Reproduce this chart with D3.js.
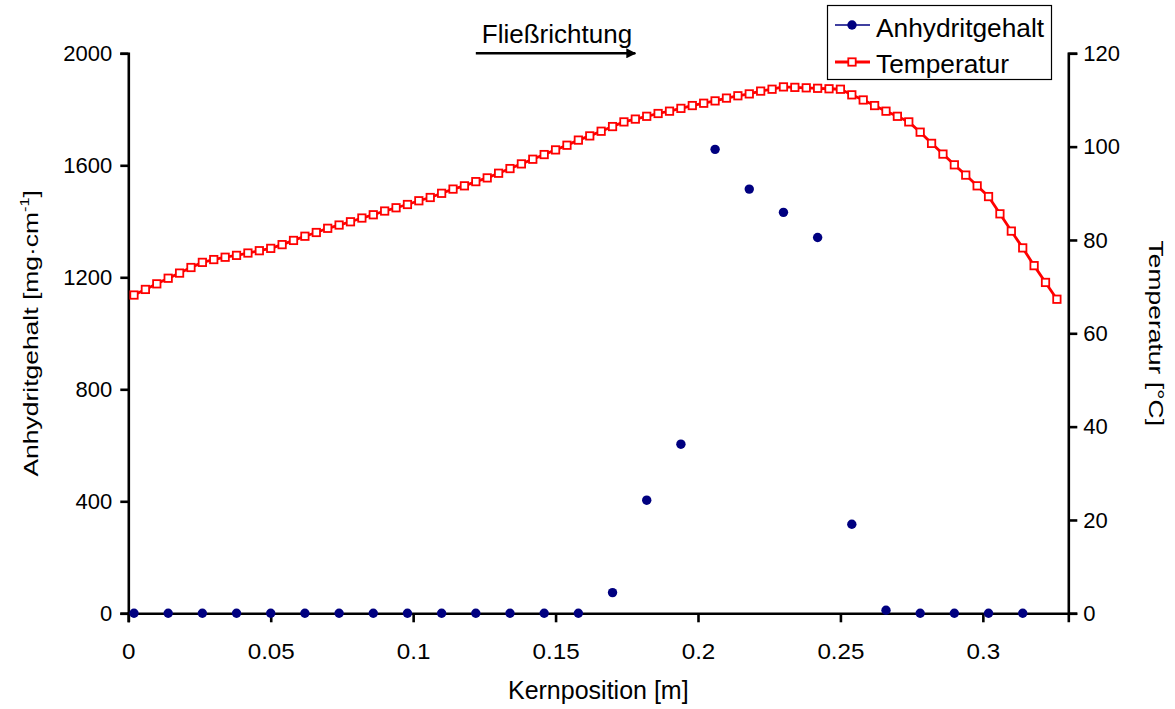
<!DOCTYPE html>
<html>
<head>
<meta charset="utf-8">
<script src="https://cdn.jsdelivr.net/npm/d3@7/dist/d3.min.js"></script>
<style>
  html, body { margin: 0; padding: 0; background: #ffffff; }
  svg { display: block; }
  text { font-family: "Liberation Sans", Arial, sans-serif; fill: #000; }
</style>
</head>
<body>
<svg id="chart" width="1175" height="709"></svg>
<script>
// Kernposition of the anhydrite samples [m]
const anhydritPosition = [0.002, 0.014, 0.026, 0.038, 0.050, 0.062, 0.074, 0.086, 0.098,
  0.110, 0.122, 0.134, 0.146, 0.158, 0.170, 0.182, 0.194, 0.206, 0.218, 0.230, 0.242,
  0.254, 0.266, 0.278, 0.290, 0.302, 0.314];
// Anhydritgehalt [mg·cm^-1]
const anhydritGehalt = [0, 0, 0, 0, 0, 0, 0, 0, 0, 0, 0, 0, 0, 0,
  74, 404, 604, 1657, 1515, 1432, 1342, 318, 11, 0, 0, 0, 0];

// Kernposition of the temperature profile [m]
const tempPosition = [0.002, 0.006, 0.010, 0.014, 0.018, 0.022, 0.026, 0.030, 0.034, 0.038,
  0.042, 0.046, 0.050, 0.054, 0.058, 0.062, 0.066, 0.070, 0.074, 0.078,
  0.082, 0.086, 0.090, 0.094, 0.098, 0.102, 0.106, 0.110, 0.114, 0.118,
  0.122, 0.126, 0.130, 0.134, 0.138, 0.142, 0.146, 0.150, 0.154, 0.158,
  0.162, 0.166, 0.170, 0.174, 0.178, 0.182, 0.186, 0.190, 0.194, 0.198,
  0.202, 0.206, 0.210, 0.214, 0.218, 0.222, 0.226, 0.230, 0.234, 0.238,
  0.242, 0.246, 0.250, 0.254, 0.258, 0.262, 0.266, 0.270, 0.274, 0.278,
  0.282, 0.286, 0.290, 0.294, 0.298, 0.302, 0.306, 0.310, 0.314, 0.318,
  0.322, 0.326];
// Temperatur [°C]
const temperatur = [68.2, 69.4, 70.6, 71.8, 72.9, 74.1, 75.2, 75.8, 76.3, 76.7,
  77.2, 77.7, 78.2, 79.0, 79.9, 80.8, 81.6, 82.5, 83.2, 83.9,
  84.7, 85.4, 86.2, 86.9, 87.6, 88.4, 89.1, 90.0, 90.9, 91.6,
  92.5, 93.3, 94.3, 95.3, 96.3, 97.3, 98.3, 99.3, 100.3, 101.4,
  102.3, 103.3, 104.3, 105.3, 105.9, 106.5, 107.1, 107.6, 108.2, 108.8,
  109.3, 109.8, 110.4, 110.9, 111.3, 111.9, 112.3, 112.8, 112.7, 112.6,
  112.5, 112.4, 112.3, 111.1, 110.0, 108.8, 107.6, 106.5, 105.3, 103.1,
  100.7, 98.4, 96.1, 93.9, 91.6, 89.3, 85.6, 81.9, 78.3, 74.5,
  70.9, 67.3];

const xTicks = [0, 0.05, 0.1, 0.15, 0.2, 0.25, 0.3];
const yLeftTicks = [0, 400, 800, 1200, 1600, 2000];
const yRightTicks = [0, 20, 40, 60, 80, 100, 120];

const seriesNames = ["Anhydritgehalt", "Temperatur"];
const flowLabel = "Fließrichtung";
const flowArrow = [0.122, 0.178]; // along the top of the plot, in metres

const svg = d3.select("#chart");
const W = 1175, H = 709;
const margin = { left: 128.3, right: W - 1068.3, top: 53.3, bottom: H - 613.3 };
const FS = 22;       // tick labels
const FS_TITLE = 25; // axis titles
const FS_NOTE = 26;  // flow annotation
const FS_LEGEND = 26.3;

const x = d3.scaleLinear().domain([0, 0.33]).range([margin.left, W - margin.right]);
const yL = d3.scaleLinear().domain([0, 2000]).range([H - margin.bottom, margin.top]);
const yR = d3.scaleLinear().domain([0, 120]).range([H - margin.bottom, margin.top]);

const NAVY = "#000080", RED = "#ff0000";

function styleAxis(g) {
  g.selectAll(".domain").attr("stroke", "#000").attr("stroke-width", 2.6);
  g.selectAll(".tick line").attr("stroke", "#000").attr("stroke-width", 2.6);
  g.selectAll(".tick text").attr("font-size", FS).attr("font-family", "Liberation Sans, Arial, sans-serif");
}

// Axes
svg.append("g")
  .attr("transform", `translate(0,${yL(0)})`)
  .call(d3.axisBottom(x).tickValues(xTicks).tickFormat(d3.format("~g")).tickSizeOuter(0).tickSize(9).tickPadding(21))
  .call(styleAxis)
  .call(g => g.selectAll(".tick text").attr("transform", "scale(1.1,1)"));

svg.append("g")
  .attr("transform", `translate(${x(0)},0)`)
  .call(d3.axisLeft(yL).tickValues(yLeftTicks).tickFormat(d3.format("d")).tickSizeOuter(0).tickSize(8).tickPadding(8))
  .call(styleAxis);

svg.append("g")
  .attr("transform", `translate(${x(0.33)},0)`)
  .call(d3.axisRight(yR).tickValues(yRightTicks).tickFormat(d3.format("d")).tickSizeOuter(0).tickSize(9).tickPadding(6))
  .call(styleAxis);

// Axis titles
svg.append("text")
  .attr("x", (x(0) + x(0.33)) / 2).attr("y", 699)
  .attr("text-anchor", "middle").attr("font-size", FS_TITLE)
  .text("Kernposition [m]");

// Rotated titles are drawn elongated along their reading direction
const yTitle = svg.append("text")
  .attr("transform", `translate(37.5,${(yL(0) + yL(2000)) / 2}) rotate(-90) scale(1.26,1)`)
  .attr("text-anchor", "middle").attr("font-size", 21);
yTitle.append("tspan").text("Anhydritgehalt [mg·cm");
yTitle.append("tspan").attr("font-size", 13).attr("dy", -9).text("-1");
yTitle.append("tspan").attr("dy", 9).text("]");

svg.append("text")
  .attr("transform", `translate(1149,${(yR(0) + yR(120)) / 2}) rotate(90) scale(1.26,1)`)
  .attr("text-anchor", "middle").attr("font-size", 21)
  .text("Temperatur [°C]");

// Temperature profile: line with open square markers
const line = d3.line()
  .x((d, i) => x(tempPosition[i]))
  .y(d => yR(d));

svg.append("path")
  .datum(temperatur)
  .attr("fill", "none").attr("stroke", RED).attr("stroke-width", 2.8)
  .attr("stroke-linejoin", "round")
  .attr("d", line);

const SQ = 7.4;
svg.append("g").selectAll("rect")
  .data(temperatur)
  .join("rect")
  .attr("x", (d, i) => x(tempPosition[i]) - SQ / 2)
  .attr("y", d => yR(d) - SQ / 2)
  .attr("width", SQ).attr("height", SQ)
  .attr("fill", "#fff").attr("stroke", RED).attr("stroke-width", 1.8);

// Anhydrite content: markers only
svg.append("g").selectAll("circle")
  .data(anhydritGehalt)
  .join("circle")
  .attr("cx", (d, i) => x(anhydritPosition[i]))
  .attr("cy", d => yL(d))
  .attr("r", 4.7)
  .attr("fill", NAVY);

// Flow direction arrow
svg.append("defs").append("marker")
  .attr("id", "arrowhead")
  .attr("viewBox", "0 0 10 10").attr("refX", 9).attr("refY", 5)
  .attr("markerWidth", 4).attr("markerHeight", 4)
  .attr("markerUnits", "strokeWidth")
  .attr("orient", "auto")
  .append("path").attr("d", "M0,0 L10,5 L0,10 z").attr("fill", "#000");

svg.append("line")
  .attr("x1", x(flowArrow[0])).attr("x2", x(flowArrow[1]))
  .attr("y1", yL(2000)).attr("y2", yL(2000))
  .attr("stroke", "#000").attr("stroke-width", 2.5)
  .attr("marker-end", "url(#arrowhead)");

svg.append("text")
  .attr("x", x(flowArrow[0]) + 6).attr("y", 43)
  .attr("font-size", FS_NOTE)
  .text(flowLabel);

// Legend
const lg = svg.append("g");
lg.append("rect")
  .attr("x", 827.5).attr("y", 5.5).attr("width", 224).attr("height", 74)
  .attr("fill", "#fff").attr("stroke", "#000").attr("stroke-width", 1.2);

lg.append("line").attr("x1", 835).attr("x2", 870).attr("y1", 25).attr("y2", 25)
  .attr("stroke", NAVY).attr("stroke-width", 1.5);
lg.append("circle").attr("cx", 852).attr("cy", 25).attr("r", 4.7).attr("fill", NAVY);
lg.append("text").attr("x", 876).attr("y", 36.5).attr("font-size", FS_LEGEND).text(seriesNames[0]);

lg.append("line").attr("x1", 835).attr("x2", 870).attr("y1", 62).attr("y2", 62)
  .attr("stroke", RED).attr("stroke-width", 2.8);
lg.append("rect").attr("x", 852 - SQ / 2).attr("y", 62 - SQ / 2).attr("width", SQ).attr("height", SQ)
  .attr("fill", "#fff").attr("stroke", RED).attr("stroke-width", 1.8);
lg.append("text").attr("x", 876).attr("y", 72.5).attr("font-size", FS_LEGEND).text(seriesNames[1]);
</script>
</body>
</html>
